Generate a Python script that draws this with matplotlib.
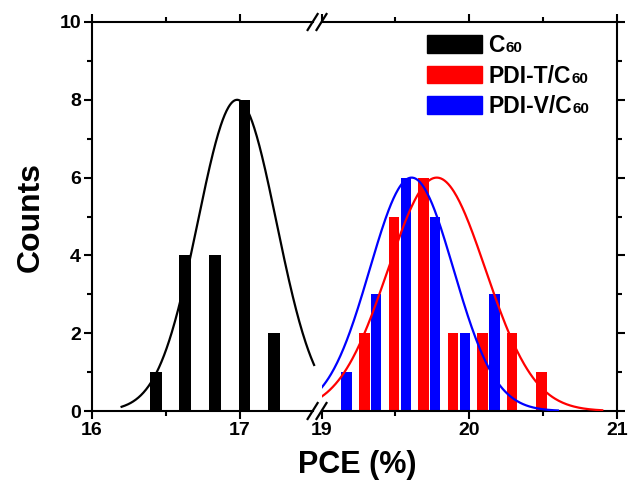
import numpy as np
import matplotlib
matplotlib.use('Agg')
import matplotlib.pyplot as plt
from matplotlib.ticker import FixedLocator, MultipleLocator
from matplotlib.lines import Line2D
from matplotlib.patches import Patch

plt.rcParams['font.family'] = ['Liberation Sans', 'DejaVu Sans']
plt.rcParams['font.weight'] = 'bold'

# ---------------- data ----------------
c60_pce = [16.43, 16.63, 16.83, 17.03, 17.23]
c60_counts = [1, 4, 4, 8, 2]

pdit_pce = [19.29, 19.49, 19.69, 19.89, 20.09, 20.29, 20.49]
pdit_counts = [2, 5, 6, 2, 2, 2, 1]

pdiv_pce = [19.17, 19.37, 19.57, 19.77, 19.97, 20.17]
pdiv_counts = [1, 3, 6, 5, 2, 3]

# Gaussian fit parameters (center, sigma, amplitude, x-range)
c60_fit = (16.98, 0.266, 8.0, 16.2, 17.5)
pdit_fit = (19.78, 0.33, 6.0, 19.0, 20.9)
pdiv_fit = (19.61, 0.284, 6.0, 19.0, 20.6)

labels_main = ['C', 'PDI-T/C', 'PDI-V/C']
label_sub = '60'
colors = ['black', 'red', 'blue']

# ---------------- layout ----------------
W, H = 628, 495
L, R, T, B = 92, 617, 22, 411
split = 321.5
left_lim = (16, 17.55)
right_lim = (19, 21)

fig = plt.figure(figsize=(W / 100, H / 100), dpi=100)
ax1 = fig.add_axes([L / W, 1 - B / H, (split - L) / W, (B - T) / H])
ax2 = fig.add_axes([split / W, 1 - B / H, (R - split) / W, (B - T) / H], sharey=ax1)


def gauss(p):
    c, s, a, x0, x1 = p
    x = np.linspace(x0, x1, 300)
    return x, a * np.exp(-(x - c) ** 2 / (2 * s ** 2))


ax1.bar(c60_pce, c60_counts, width=0.08, color=colors[0], zorder=2)
ax2.bar(pdit_pce, pdit_counts, width=0.07, color=colors[1], zorder=2)
ax2.bar(pdiv_pce, pdiv_counts, width=0.07, color=colors[2], zorder=2)

x, y = gauss(c60_fit)
ax1.plot(x, y, color=colors[0], lw=1.6, zorder=3)
x, y = gauss(pdit_fit)
ax2.plot(x, y, color=colors[1], lw=1.6, zorder=3)
x, y = gauss(pdiv_fit)
ax2.plot(x, y, color=colors[2], lw=1.6, zorder=3)

ax1.set_xlim(*left_lim)
ax2.set_xlim(*right_lim)
ax1.set_ylim(0, 10)

ax1.yaxis.set_major_locator(MultipleLocator(2))
ax1.yaxis.set_minor_locator(MultipleLocator(1))
ax1.xaxis.set_major_locator(FixedLocator([16, 17]))
ax1.xaxis.set_minor_locator(FixedLocator([16.5]))
ax2.xaxis.set_major_locator(FixedLocator([19, 20, 21]))
ax2.xaxis.set_minor_locator(FixedLocator([19.5, 20.5]))

for ax in (ax1, ax2):
    for sp in ax.spines.values():
        sp.set_linewidth(1.5)
    ax.tick_params(which='both', direction='out', width=1.5, labelsize=14, pad=2)
    ax.tick_params(which='major', length=6)
    ax.tick_params(which='minor', length=3.5)

ax1.spines['right'].set_visible(False)
ax2.spines['left'].set_visible(False)
ax1.spines['bottom'].set_bounds(16, 17.49)
ax1.spines['top'].set_bounds(16, 17.49)

ax1.tick_params(which='both', top=True, labeltop=False, right=False)
ax1.tick_params(which='both', axis='x', pad=2)
ax2.tick_params(which='both', top=True, labeltop=False, left=False, labelleft=False,
                right=True, labelright=False)
ax2.tick_params(which='both', axis='x', pad=2)

# break marks
inv = fig.transFigure.inverted()


def slash(ax, xd, yax):
    cx = ax.transData.transform((xd, 0))[0]
    cy = ax.transAxes.transform((0, yax))[1]
    p0 = inv.transform((cx - 5, cy - 8))
    p1 = inv.transform((cx + 5, cy + 8))
    fig.add_artist(Line2D([p0[0], p1[0]], [p0[1], p1[1]], color='black', lw=1.6,
                          transform=fig.transFigure))


for yax in (0, 1):
    slash(ax1, 17.49, yax)
    slash(ax2, 19.0, yax)

# legend
handles = [Patch(facecolor=c, edgecolor=c) for c in colors]
leg = ax2.legend(handles, labels_main, loc='upper left', frameon=False,
                 bbox_to_anchor=(427 / W, 1 - 34 / H), bbox_transform=fig.transFigure,
                 prop={'size': 16.5, 'weight': 'bold'}, handlelength=2.4, handleheight=0.8,
                 handletextpad=0.28, labelspacing=0.33, borderpad=0, borderaxespad=0)

fig.text(31 / W, 1 - (T + B) / 2 / H, 'Counts', rotation=90, ha='center', va='center',
         fontsize=23, fontweight='bold')
fig.text(357 / W, 1 - 465 / H, 'PCE (%)', ha='center', va='center',
         fontsize=22, fontweight='bold')

# subscripts "60" after legend labels
fig.canvas.draw()
renderer = fig.canvas.get_renderer()
for t in leg.get_texts():
    bb = t.get_window_extent(renderer)
    base = t.get_transform().transform(t.get_position())
    px, py = inv.transform((bb.x1 + 0.5, base[1]))
    fig.text(px, py, label_sub, ha='left', va='baseline', fontsize=11, fontweight='bold')

fig.savefig('out.png', dpi=100)
